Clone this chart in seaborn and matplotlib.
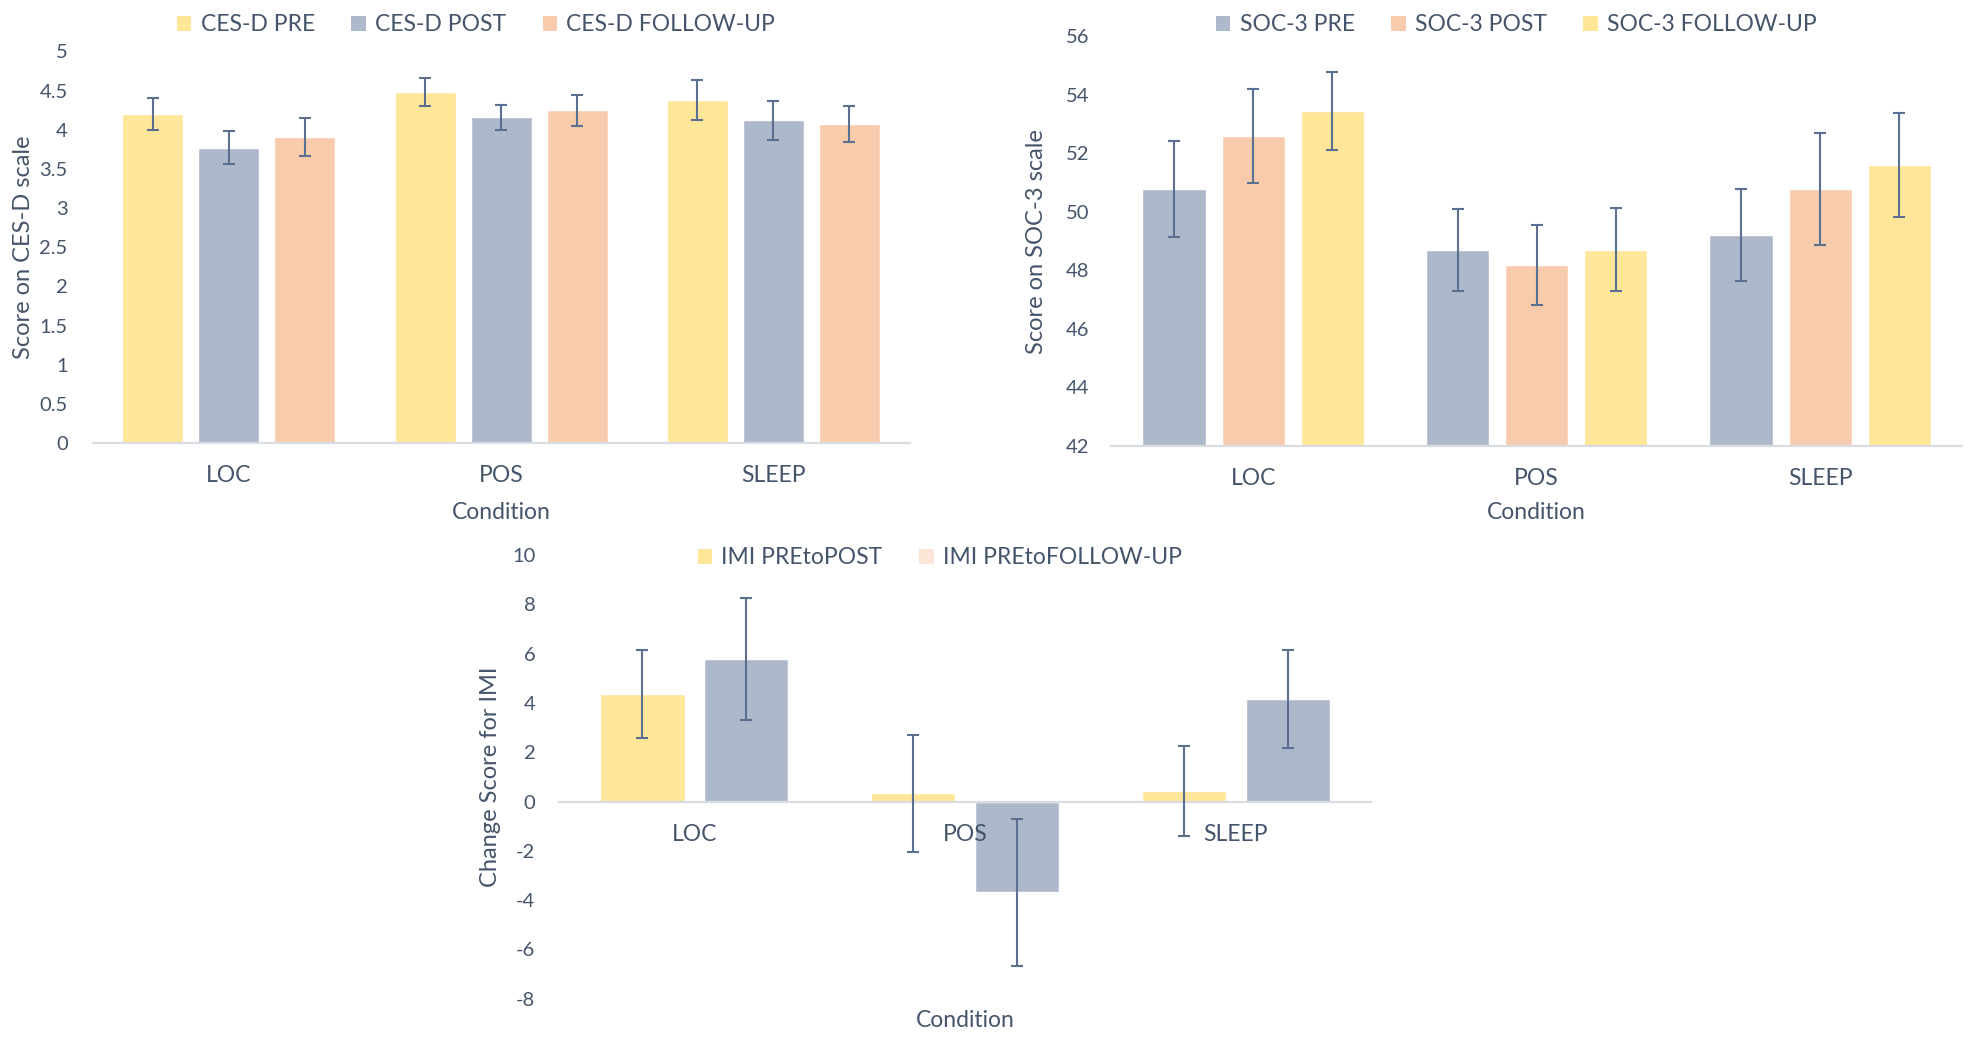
import matplotlib
matplotlib.use("Agg")
import matplotlib.pyplot as plt
from matplotlib.patches import Patch
import seaborn as sns
import pandas as pd

# ---- data -----------------------------------------------------------------
conditions = ["LOC", "POS", "SLEEP"]

cesd_labels = ["CES-D PRE", "CES-D POST", "CES-D FOLLOW-UP"]
cesd_pre = [4.20, 4.48, 4.38]
cesd_post = [3.77, 4.16, 4.12]
cesd_fu = [3.91, 4.25, 4.08]
cesd_pre_err = [0.20, 0.18, 0.26]
cesd_post_err = [0.21, 0.16, 0.25]
cesd_fu_err = [0.24, 0.20, 0.23]

soc_labels = ["SOC-3 PRE", "SOC-3 POST", "SOC-3 FOLLOW-UP"]
soc_pre = [50.78, 48.70, 49.21]
soc_post = [52.60, 48.18, 50.78]
soc_fu = [53.44, 48.70, 51.61]
soc_pre_err = [1.64, 1.40, 1.58]
soc_post_err = [1.60, 1.36, 1.91]
soc_fu_err = [1.34, 1.42, 1.77]

imi_labels = ["IMI PREtoPOST", "IMI PREtoFOLLOW-UP"]
imi_post = [4.37, 0.34, 0.43]
imi_fu = [5.79, -3.69, 4.17]
imi_post_err = [1.78, 2.37, 1.83]
imi_fu_err = [2.48, 2.99, 1.99]

# ---- style ----------------------------------------------------------------
YELLOW = "#FFE699"
GREY = "#ADB9CA"
PEACH = "#F8CBAD"
PALE_PEACH = "#FBE5D6"
ERR = "#5B7091"
TEXT = "#44546A"
AXIS = "#D9DDE3"

sns.set_theme(style="white")
plt.rcParams["font.family"] = ["Lato", "DejaVu Sans"]
plt.rcParams["text.color"] = TEXT
plt.rcParams["axes.labelcolor"] = TEXT
plt.rcParams["xtick.color"] = TEXT
plt.rcParams["ytick.color"] = TEXT

FS_YTICK = 14.5
FS_TEXT = 16.5
FS_YLABEL = 17

fig = plt.figure(figsize=(19.77, 10.4), dpi=100)


def draw_panel(ax, labels, series, errs, colors, width, gap, ylim, yticks,
               ylabel, ypad, legend_colors, legend_xy, zero_axis=False):
    rows = []
    for lab, vals in zip(labels, series):
        for cond, v in zip(conditions, vals):
            rows.append({"Condition": cond, "Series": lab, "Score": v})
    df = pd.DataFrame(rows)
    sns.barplot(data=df, x="Condition", y="Score", hue="Series",
                hue_order=labels, order=conditions, palette=colors,
                width=width, gap=gap, errorbar=None, saturation=1,
                legend=False, ax=ax, zorder=2)
    for cont, vals, e in zip(ax.containers, series, errs):
        xs = [b.get_x() + b.get_width() / 2 for b in cont]
        ax.errorbar(xs, vals, yerr=e, fmt="none", ecolor=ERR,
                    elinewidth=1.5, capsize=4.5, capthick=1.5, zorder=5)

    ax.set_xlim(-0.5, len(conditions) - 0.5)
    ax.set_ylim(*ylim)
    ax.set_yticks(yticks)
    ax.set_yticklabels([f"{t:g}" for t in yticks])
    ax.tick_params(axis="y", length=0, pad=ypad, labelsize=FS_YTICK)
    ax.tick_params(axis="x", length=0, pad=16, labelsize=FS_TEXT)

    for side in ("top", "right", "left"):
        ax.spines[side].set_visible(False)
    ax.spines["bottom"].set_color(AXIS)
    ax.spines["bottom"].set_linewidth(1.6)
    ax.spines["bottom"].set_zorder(3)
    if zero_axis:
        ax.spines["bottom"].set_position(("data", 0))
        ax.xaxis.set_zorder(4)

    ax.set_xlabel("Condition", fontsize=FS_TEXT, va="center")
    ax.set_ylabel(ylabel, fontsize=FS_YLABEL, va="center")
    ax.grid(False)

    handles = [Patch(facecolor=c, edgecolor="none") for c in legend_colors]
    fig.legend(handles, labels, loc="center", bbox_to_anchor=legend_xy,
               ncol=len(labels), frameon=False, fontsize=FS_TEXT,
               handlelength=0.62, handleheight=0.62, handletextpad=0.4,
               columnspacing=1.6)


# CES-D panel
ax1 = fig.add_axes([0.0469, 0.574, 0.4132, 0.3765])
draw_panel(ax1, cesd_labels, [cesd_pre, cesd_post, cesd_fu],
           [cesd_pre_err, cesd_post_err, cesd_fu_err],
           [YELLOW, GREY, PEACH], 0.837, 0.197, (0, 5),
           [i * 0.5 for i in range(11)], "Score on CES-D scale", 18,
           [YELLOW, GREY, PEACH], (0.2408, 0.976))
ax1.xaxis.set_label_coords(0.5, -0.178)
ax1.yaxis.set_label_coords(-0.0847, 0.5)

# SOC-3 panel
ax2 = fig.add_axes([0.5622, 0.5712, 0.4302, 0.3938])
draw_panel(ax2, soc_labels, [soc_pre, soc_post, soc_fu],
           [soc_pre_err, soc_post_err, soc_fu_err],
           [GREY, PEACH, YELLOW], 0.837, 0.2, (42, 56),
           list(range(42, 57, 2)), "Score on SOC-3 scale", 16,
           [GREY, PEACH, YELLOW], (0.767, 0.976))
ax2.xaxis.set_label_coords(0.5, -0.162)
ax2.yaxis.set_label_coords(-0.0876, 0.5)

# IMI change-score panel
ax3 = fig.add_axes([0.2828, 0.0397, 0.4107, 0.4266])
draw_panel(ax3, imi_labels, [imi_post, imi_fu],
           [imi_post_err, imi_fu_err],
           [YELLOW, GREY], 0.768, 0.19, (-8, 10),
           list(range(-8, 11, 2)), "Change Score for IMI", 17,
           [YELLOW, PALE_PEACH], (0.4754, 0.4635), zero_axis=True)
ax3.xaxis.set_label_coords(0.5, -0.048)
ax3.yaxis.set_label_coords(-0.085, 0.5)

fig.savefig("out.png", dpi=100, facecolor="white")
